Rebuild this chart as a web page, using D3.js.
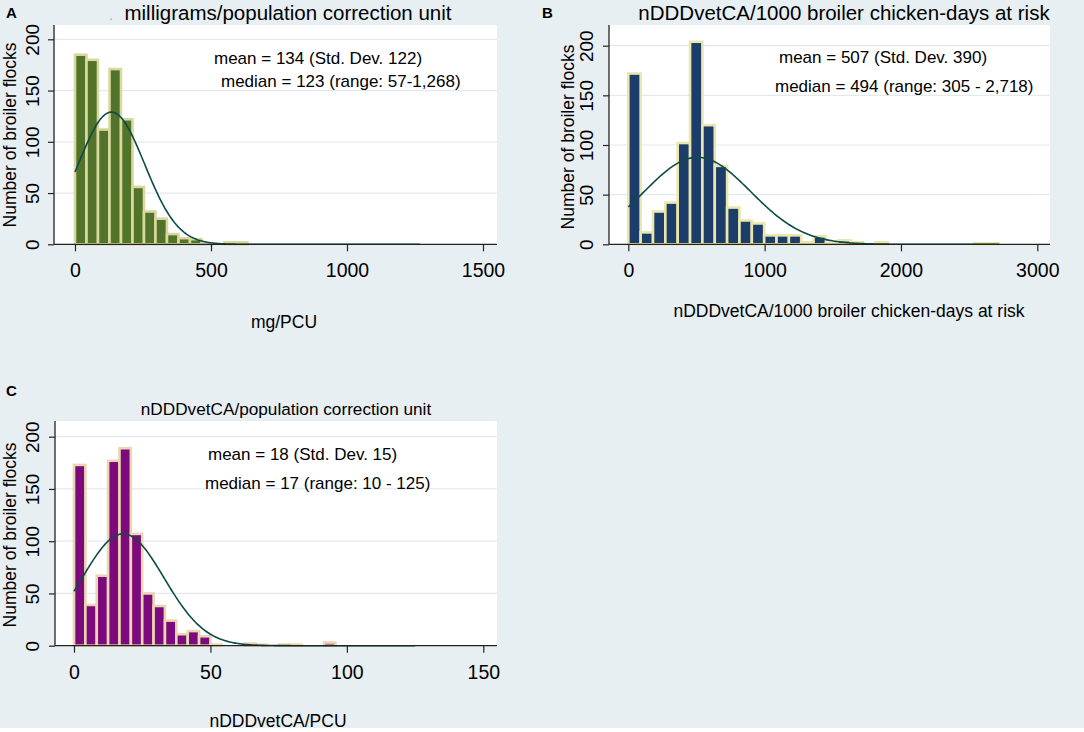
<!DOCTYPE html>
<html>
<head>
<meta charset="utf-8">
<script src="https://cdn.jsdelivr.net/npm/d3@7"></script>
<style>
  body { margin: 0; background: #fff; }
  svg { display: block; font-family: "Liberation Sans", Arial, sans-serif; }
</style>
</head>
<body>
<div id="chart"></div>
<script>
// histogram counts (30 bins per panel)
const mgPerPcuCounts   = [185,180,112,171,122,56,32,25,10,6,5,1,0,2,2,0,0,0,0,0,0,0,0,0,0,0,0,0,0,0];
const dddPer1000Counts = [172,12,33,42,102,204,120,79,37,24,21,9,9,9,2,8,1,4,2,0,2,0,0,0,0,0,0,0,1,1];
const dddPerPcuCounts  = [173,39,67,177,189,107,50,38,24,11,14,9,1,0,0,2,1,0,1,1,0,0,3,0,0,0,0,0,0,0];

const binWidths  = [42.27, 90.6, 4.1667];
const dataMax    = [1268, 2718, 125];
const means      = [134, 507, 18];
const stdDevs    = [122, 390, 15];
const curvePeaks = [129, 87.6, 107];

const xTicksA = [0, 500, 1000, 1500];
const xTicksB = [0, 1000, 2000, 3000];
const xTicksC = [0, 50, 100, 150];
const yTicks  = [0, 50, 100, 150, 200];

const panelLetters = ["A", "B", "C"];
const panelTitles  = ["milligrams/population correction unit",
                      "nDDDvetCA/1000 broiler chicken-days at risk",
                      "nDDDvetCA/population correction unit"];
const xTitles      = ["mg/PCU", "nDDDvetCA/1000 broiler chicken-days at risk", "nDDDvetCA/PCU"];
const yTitle       = "Number of broiler flocks";
const meanLabels   = ["mean = 134 (Std. Dev. 122)", "mean = 507 (Std. Dev. 390)", "mean = 18 (Std. Dev. 15)"];
const medianLabels = ["median = 123 (range: 57-1,268)", "median = 494 (range: 305 - 2,718)", "median = 17 (range: 10 - 125)"];

const W = 1084, H = 732;
const BG = "#e8eff3";
const GRID = "#e2eaee";
const CURVE = "#0d4b48";

// layout of each panel (pixels)
const panels = [
  { counts: mgPerPcuCounts, xTicks: xTicksA, xDomain: [0, 1500],
    plot: {left: 54, right: 497, top: 25, bottom: 244.3}, xRange: [75, 483], yTop: 39.3,
    fill: "#52732a", outline: "#d9d8a0",
    letter: [6, 18], title: [288, 20, 20.5], mean: [214, 64], median: [221, 87],
    xTitle: [284, 328], yTitle: [16, 135], yTickX: 38.5, xTickY: 277 },
  { counts: dddPer1000Counts, xTicks: xTicksB, xDomain: [0, 3000],
    plot: {left: 609, right: 1050, top: 25, bottom: 244.3}, xRange: [628.3, 1037.3], yTop: 45.7,
    fill: "#1c3d6a", outline: "#ebe6ad",
    letter: [542, 18], title: [844, 20, 20.5], mean: [779, 63], median: [775, 92],
    xTitle: [849, 317], yTitle: [574, 137], yTickX: 592.5, xTickY: 277 },
  { counts: dddPerPcuCounts, xTicks: xTicksC, xDomain: [0, 150],
    plot: {left: 55, right: 497, top: 421, bottom: 645.7}, xRange: [74, 483.3], yTop: 436.7,
    fill: "#7d0a7d", outline: "#ead6b2",
    letter: [6, 396], title: [286, 415, 17.2], mean: [208, 460], median: [205, 489],
    xTitle: [278, 727], yTitle: [16, 535], yTickX: 38.5, xTickY: 679 }
];

const svg = d3.select("#chart").append("svg")
    .attr("width", W)
    .attr("height", H)
    .attr("viewBox", [0, 0, W, H]);

svg.append("rect").attr("width", W).attr("height", H).attr("fill", BG);
svg.append("rect").attr("y", 728).attr("width", W).attr("height", H - 728).attr("fill", "#fff");

panels.forEach((p, i) => {
    const g = svg.append("g");
    const x = d3.scaleLinear().domain(p.xDomain).range(p.xRange);
    const y = d3.scaleLinear().domain([0, 200]).range([p.plot.bottom, p.yTop]);

    g.append("rect")
        .attr("x", p.plot.left).attr("y", p.plot.top)
        .attr("width", p.plot.right - p.plot.left)
        .attr("height", p.plot.bottom - p.plot.top)
        .attr("fill", "#fff");

    // grid lines
    g.append("g").selectAll("line")
        .data(yTicks.filter(d => d > 0))
        .join("line")
            .attr("x1", p.plot.left).attr("x2", p.plot.right)
            .attr("y1", d => y(d)).attr("y2", d => y(d))
            .attr("stroke", GRID).attr("stroke-width", 1.2);

    // bars
    const bins = p.counts.map((c, k) => ({x0: k * binWidths[i], x1: (k + 1) * binWidths[i], count: c}))
                         .filter(d => d.count > 0);
    g.append("g").selectAll("rect")
        .data(bins)
        .join("rect")
            .attr("x", d => x(d.x0))
            .attr("y", d => y(d.count))
            .attr("width", d => x(d.x1) - x(d.x0))
            .attr("height", d => y(0) - y(d.count))
            .attr("fill", p.fill)
            .attr("stroke", p.outline)
            .attr("stroke-width", 2.6);

    // normal density overlay
    const xs = d3.range(0, 301).map(k => dataMax[i] * k / 300);
    const line = d3.line()
        .x(d => x(d))
        .y(d => y(curvePeaks[i] * Math.exp(-0.5 * Math.pow((d - means[i]) / stdDevs[i], 2))));
    g.append("path")
        .datum(xs)
        .attr("d", line)
        .attr("fill", "none")
        .attr("stroke", CURVE)
        .attr("stroke-width", 1.6);

    // axes
    const xAxis = d3.axisBottom(x).tickValues(p.xTicks).tickFormat(d3.format("d"))
        .tickSize(7).tickSizeOuter(0).tickPadding(4);
    const ax = g.append("g").attr("transform", `translate(0,${p.plot.bottom})`).call(xAxis);
    ax.select(".domain").remove();
    ax.selectAll("line").attr("stroke", "#222").attr("stroke-width", 1.2);
    ax.selectAll("text")
        .attr("y", p.xTickY - p.plot.bottom).attr("dy", 0)
        .attr("fill", "#000").style("font-size", "19.5px").style("font-family", "inherit");

    const yAxis = d3.axisLeft(y).tickValues(yTicks).tickSize(6).tickSizeOuter(0);
    const ay = g.append("g").attr("transform", `translate(${p.plot.left},0)`).call(yAxis);
    ay.select(".domain").remove();
    ay.selectAll("line").attr("stroke", "#222").attr("stroke-width", 1.2);
    ay.selectAll("text")
        .attr("x", 0).attr("dy", 0)
        .attr("transform", `translate(${p.yTickX - p.plot.left},0) rotate(-90)`)
        .attr("text-anchor", "middle")
        .attr("fill", "#000").style("font-size", "19px").style("font-family", "inherit");

    g.append("line")
        .attr("x1", p.plot.left).attr("x2", p.plot.right)
        .attr("y1", p.plot.bottom).attr("y2", p.plot.bottom)
        .attr("stroke", "#222").attr("stroke-width", 1.3);
    g.append("line")
        .attr("x1", p.plot.left).attr("x2", p.plot.left)
        .attr("y1", p.plot.top).attr("y2", p.plot.bottom)
        .attr("stroke", "#222").attr("stroke-width", 1.3);

    // texts
    g.append("text")
        .attr("x", p.letter[0]).attr("y", p.letter[1])
        .style("font-size", "15px").style("font-weight", "bold")
        .text(panelLetters[i]);
    g.append("text")
        .attr("x", p.title[0]).attr("y", p.title[1])
        .attr("text-anchor", "middle")
        .style("font-size", p.title[2] + "px")
        .text(panelTitles[i]);
    g.append("text")
        .attr("x", p.mean[0]).attr("y", p.mean[1])
        .style("font-size", "17px")
        .text(meanLabels[i]);
    g.append("text")
        .attr("x", p.median[0]).attr("y", p.median[1])
        .style("font-size", "17px")
        .text(medianLabels[i]);
    g.append("text")
        .attr("x", p.xTitle[0]).attr("y", p.xTitle[1])
        .attr("text-anchor", "middle")
        .style("font-size", "17.5px")
        .text(xTitles[i]);
    g.append("text")
        .attr("transform", `translate(${p.yTitle[0]},${p.yTitle[1]}) rotate(-90)`)
        .attr("text-anchor", "middle")
        .style("font-size", "17.5px")
        .text(yTitle);
});

// stray dot left of the first title in the source figure
svg.append("text").attr("x", 109).attr("y", 20)
    .attr("fill", "#9aa").style("font-size", "14px").text(".");
</script>
</body>
</html>
